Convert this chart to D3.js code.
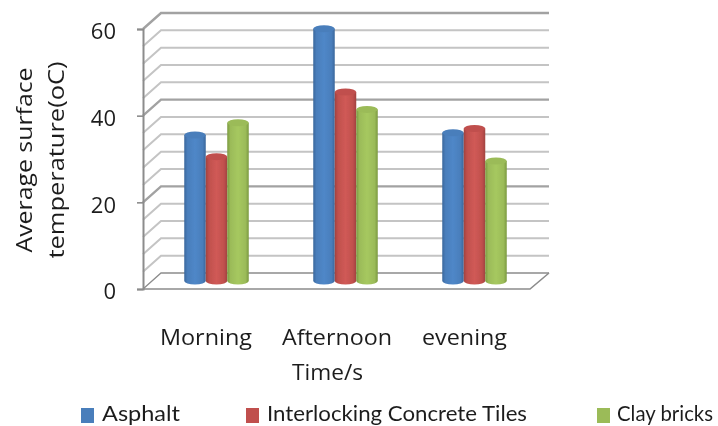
<!DOCTYPE html>
<html>
<head>
<meta charset="utf-8">
<script src="https://cdn.jsdelivr.net/npm/d3@7/dist/d3.min.js"></script>
<style>
  html, body { margin: 0; padding: 0; background: #fff; }
  svg { display: block; }
  text { font-family: "Open Sans", sans-serif; fill: #1f1f1f; }
</style>
</head>
<body>
<svg id="chart" width="718" height="426"></svg>
<script>
// Average surface temperature by time of day for three paving materials
const categories = ["Morning", "Afternoon", "evening"];
const seriesNames = ["Asphalt", "Interlocking Concrete Tiles", "Clay bricks"];
const asphalt = [33.7, 58.2, 34.2];
const concreteTiles = [28.7, 43.6, 35.2];
const clayBricks = [36.5, 39.6, 27.7];
const yTicks = [0, 20, 40, 60];
const gridValues = d3.range(0, 61, 4);
const yAxisLines = ["Average surface", "temperature(oC)"];
const xAxisTitle = "Time/s";

const seriesValues = [asphalt, concreteTiles, clayBricks];
const palette = [
  { dark: "#3a679c", mid: "#4f87c8", base: "#4a7ebb" },
  { dark: "#a04240", mid: "#d05a56", base: "#c0504d" },
  { dark: "#7b9a40", mid: "#a6c85f", base: "#9bbb59" }
];

const svg = d3.select("#chart");
const defs = svg.append("defs");
defs.append("filter").attr("id", "soft")
  .attr("x", "-5%").attr("y", "-5%").attr("width", "110%").attr("height", "110%")
  .append("feGaussianBlur").attr("stdDeviation", 0.7);

palette.forEach((c, i) => {
  const g = defs.append("linearGradient").attr("id", "cyl" + i);
  [[0, c.dark], [0.15, c.base], [0.5, c.mid], [0.85, c.base], [1, c.dark]].forEach(([o, col]) =>
    g.append("stop").attr("offset", o).attr("stop-color", col));
});

const root = svg.append("g").attr("filter", "url(#soft)");

// Front edge of the plot box, and the offset of the back wall behind it
const frontLeft = 143, frontRight = 530;
const depthX = 18, depthY = -16;
const y = d3.scaleLinear().domain([0, 60]).range([289, 29]);
const x = d3.scaleBand().domain(categories).range([frontLeft, frontRight]);
const inner = d3.scaleBand().domain(seriesNames).range([0, x.bandwidth()])
  .paddingOuter(1.5).paddingInner(0);

// Back wall and left wall gridlines
const grid = root.append("g").attr("fill", "none");
gridValues.forEach(v => {
  const major = yTicks.includes(v);
  const py = y(v);
  const pts = [[frontLeft, py], [frontLeft + depthX, py + depthY], [frontRight + depthX + 1, py + depthY]];
  grid.append("path")
    .attr("d", d3.line()(pts))
    .attr("stroke", v === 0 ? "#8c8c8c" : (major ? "#a2a2a2" : "#c4c4c4"))
    .attr("stroke-width", v === 0 ? 1.3 : (major ? 2.4 : 2));
});

// Floor edges
grid.append("path")
  .attr("d", d3.line()([
    [frontLeft, y(0)], [frontRight, y(0)], [frontRight + depthX + 1, y(0) + depthY]
  ]))
  .attr("stroke", "#8c8c8c").attr("stroke-width", 1.6);

// Value axis with outward tick marks
const axis = root.append("g").attr("transform", `translate(${frontLeft},0)`)
  .call(d3.axisLeft(y).tickValues(yTicks).tickSize(6).tickPadding(14));
axis.select(".domain").attr("stroke", "#8c8c8c").attr("stroke-width", 2);
axis.selectAll(".tick line").attr("stroke", "#8c8c8c").attr("stroke-width", 1.6);
axis.selectAll(".tick text")
  .attr("font-size", 22).attr("dy", "0.44em").attr("x", -27)
  .style("font-family", '"Open Sans", sans-serif').style("fill", "#1f1f1f");

// Cylinders stand midway between the front edge and the back wall
const midX = depthX / 2, midY = depthY / 2;
const rx = inner.bandwidth() / 2, ry = 3.5;
const bars = root.append("g");
seriesNames.forEach((name, s) => {
  const group = bars.append("g");
  categories.forEach((cat, c) => {
    const v = seriesValues[s][c];
    const left = x(cat) + inner(name) + midX;
    const right = left + inner.bandwidth();
    const top = y(v) + midY;
    const bottom = y(0) + midY;
    group.append("path")
      .attr("d", `M${left},${top}L${left},${bottom}A${rx},${ry} 0 0 0 ${right},${bottom}L${right},${top}Z`)
      .attr("fill", `url(#cyl${s})`);
    group.append("ellipse")
      .attr("cx", left + rx).attr("cy", top).attr("rx", rx).attr("ry", ry)
      .attr("fill", palette[s].base);
  });
});

// Category labels and axis titles
const catSpan = { Morning: [160, 92], Afternoon: [282, 110], evening: [422, 85] };
const labels = root.append("g").attr("font-size", 22);
categories.forEach(cat => {
  labels.append("text")
    .attr("x", catSpan[cat][0]).attr("y", 345)
    .attr("textLength", catSpan[cat][1]).attr("lengthAdjust", "spacingAndGlyphs")
    .text(cat);
});
labels.append("text").attr("x", 292).attr("y", 380)
  .attr("textLength", 71).attr("lengthAdjust", "spacingAndGlyphs").text(xAxisTitle);

[[32, 160, 185], [64, 160, 197]].forEach(([bx, cy, len], i) => {
  labels.append("text")
    .attr("transform", `translate(${bx},${cy}) rotate(-90)`)
    .attr("text-anchor", "middle")
    .attr("textLength", len).attr("lengthAdjust", "spacingAndGlyphs")
    .text(yAxisLines[i]);
});

// Legend
const legendSwatchX = [81, 246, 597];
const legendTextX = [102, 267, 617];
const legendTextW = [78, 260, 96];
const legend = root.append("g");
seriesNames.forEach((name, i) => {
  legend.append("rect")
    .attr("x", legendSwatchX[i]).attr("y", 408).attr("width", 13).attr("height", 15)
    .attr("fill", palette[i].base);
  legend.append("text")
    .attr("x", legendTextX[i]).attr("y", 420.5)
    .attr("font-size", 21.5)
    .style("font-family", "Lato, sans-serif")
    .attr("textLength", legendTextW[i]).attr("lengthAdjust", "spacingAndGlyphs")
    .text(name);
});
</script>
</body>
</html>
